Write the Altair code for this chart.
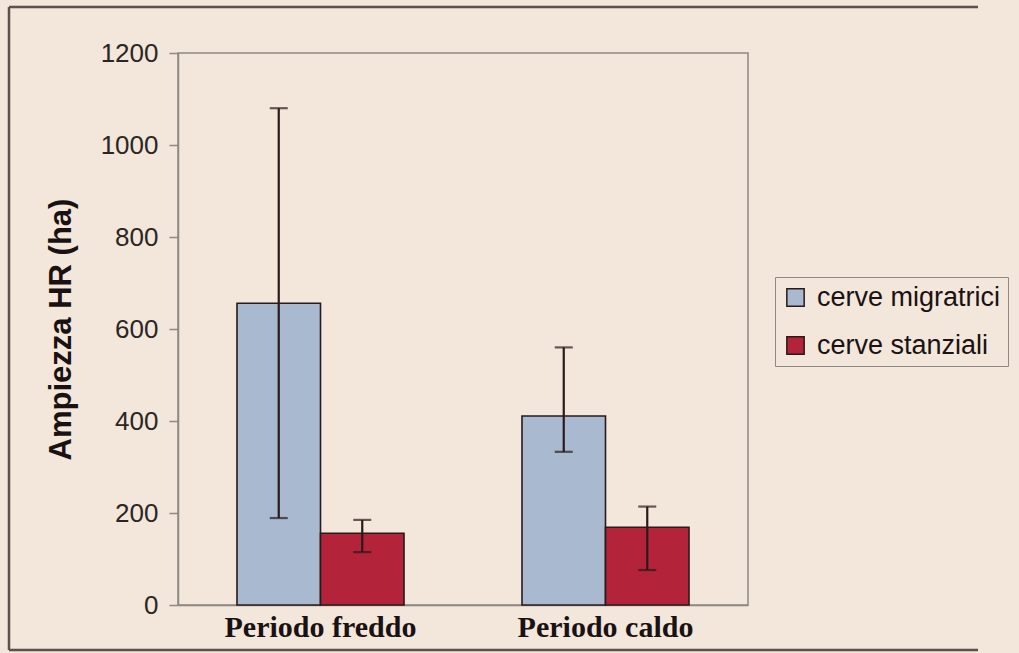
import altair as alt
import pandas as pd

# Home-range size (ha) of migratory vs resident hinds in the cold and warm periods
periods = ["Periodo freddo", "Periodo caldo"]
groups = ["cerve migratrici", "cerve stanziali"]
mean_migr = [656, 411]
mean_stanz = [156, 169]
low_migr = [189, 333]
low_stanz = [115, 76]
high_migr = [1080, 560]
high_stanz = [185, 214]

colors = ["#a8b9d0", "#b3243a"]
bg = "#f3e6da"
ink = "#2a1a1a"
frame_gray = "#8e8983"

rows = []
for i, p in enumerate(periods):
    rows.append(dict(periodo=p, gruppo=groups[0], media=mean_migr[i], lo=low_migr[i], hi=high_migr[i]))
    rows.append(dict(periodo=p, gruppo=groups[1], media=mean_stanz[i], lo=low_stanz[i], hi=high_stanz[i]))
df = pd.DataFrame(rows)
caps = pd.concat([
    df[["periodo", "gruppo", "lo"]].rename(columns={"lo": "cap"}),
    df[["periodo", "gruppo", "hi"]].rename(columns={"hi": "cap"}),
])

x_enc = alt.X(
    "periodo:N", sort=periods, title=None,
    scale=alt.Scale(paddingInner=0.414, paddingOuter=0.207),
    axis=alt.Axis(labelAngle=0, labelFont="Liberation Serif", labelFontWeight="bold",
                  labelFontSize=30, labelColor="#1a1212", labelPadding=7, ticks=False,
                  labelLimit=0, domainColor=frame_gray, domainWidth=1.5),
)
xoff = alt.XOffset("gruppo:N", sort=groups, scale=alt.Scale(paddingInner=0, paddingOuter=0))
y_scale = alt.Scale(domain=[0, 1200])

bars = alt.Chart(df).mark_bar(stroke=ink, strokeWidth=1.6).encode(
    x=x_enc,
    xOffset=xoff,
    y=alt.Y("media:Q", scale=y_scale, title="Ampiezza HR (ha)",
            axis=alt.Axis(values=[0, 200, 400, 600, 800, 1000, 1200], format="d", grid=False,
                          labelFont="Liberation Sans", labelFontSize=26, labelColor="#2a2624",
                          labelPadding=11, tickSize=9, tickColor=frame_gray, tickWidth=1.5,
                          labelLimit=0, domainColor=frame_gray, domainWidth=1.5,
                          titleFont="Liberation Sans", titleFontWeight="bold", titleFontSize=31,
                          titleColor="#1a1212", titlePadding=23)),
    color=alt.Color("gruppo:N", sort=groups, scale=alt.Scale(domain=groups, range=colors),
                    legend=alt.Legend(title=None, orient="none", legendX=597, legendY=224,
                                      strokeColor=frame_gray, fillColor=bg, padding=7,
                                      symbolType="square", symbolSize=300,
                                      symbolStrokeColor=ink, symbolStrokeWidth=1.5,
                                      labelFont="Liberation Sans", labelFontSize=27,
                                      labelLimit=0,
                                      labelColor="#1a1212", rowPadding=20, symbolOffset=0,
                                      labelOffset=8)),
)

whiskers = alt.Chart(df).mark_rule(color=ink, strokeWidth=2.2).encode(
    x=alt.X("periodo:N", sort=periods),
    xOffset=xoff,
    y=alt.Y("lo:Q", scale=y_scale),
    y2="hi:Q",
)

cap_marks = alt.Chart(caps).mark_tick(color=ink, thickness=2.2, size=18).encode(
    x=alt.X("periodo:N", sort=periods),
    xOffset=xoff,
    y=alt.Y("cap:Q", scale=y_scale),
)

# outer page frame: top, left and bottom edges
frame_df = pd.DataFrame({"k": [0]})
frame_top = alt.Chart(frame_df).mark_rule(color="#5a524c", strokeWidth=2.5).encode(
    x=alt.value(-169), x2=alt.value(800), y=alt.value(-46)
)
frame_left = alt.Chart(frame_df).mark_rule(color="#5a524c", strokeWidth=2.5).encode(
    x=alt.value(-169), y=alt.value(-46), y2=alt.value(597)
)
frame_bottom = alt.Chart(frame_df).mark_rule(color="#5a524c", strokeWidth=2.5).encode(
    x=alt.value(-169), x2=alt.value(800), y=alt.value(597)
)

chart = alt.layer(frame_top, frame_left, frame_bottom, bars, whiskers, cap_marks).properties(
    width=570, height=552,
    background=bg,
    padding={"left": 178, "top": 53, "right": 271, "bottom": 48},
    autosize=alt.AutoSizeParams(type="none"),
).configure_view(
    stroke=frame_gray, strokeWidth=1.5
)

chart.save("out.html", embed_options={"renderer": "svg", "actions": False})
